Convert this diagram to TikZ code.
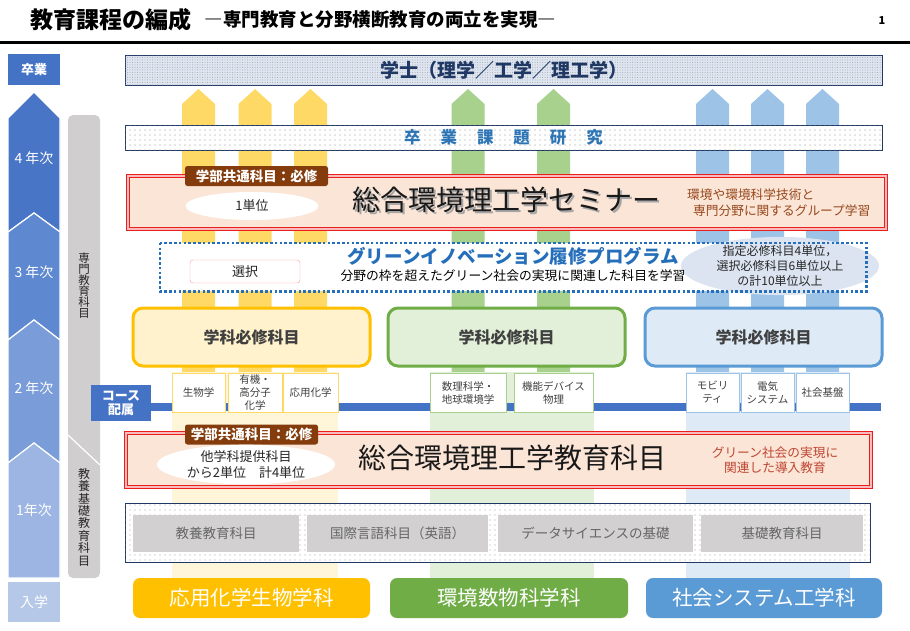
\documentclass[tikz,border=0pt]{standalone}
\usepackage{fontspec}
\setmainfont{Noto Sans CJK JP}
\usetikzlibrary{shapes,arrows,positioning,calc,patterns,patterns.meta}
\definecolor{yearfour}{RGB}{72,117,197}
\definecolor{yearthree}{RGB}{94,136,208}
\definecolor{yeartwo}{RGB}{122,156,216}
\definecolor{yearone}{RGB}{156,181,226}
\definecolor{entryblue}{RGB}{182,200,232}
\definecolor{gradblue}{RGB}{68,114,196}
\definecolor{sidegray}{RGB}{208,206,206}
\definecolor{navy}{RGB}{32,56,100}
\definecolor{gakushiblue}{RGB}{222,230,242}
\definecolor{kadaiblue}{RGB}{46,117,182}
\definecolor{commonred}{RGB}{235,30,30}
\definecolor{semipeach}{RGB}{251,229,214}
\definecolor{tagbrown}{RGB}{132,60,12}
\definecolor{notebrown}{RGB}{150,72,30}
\definecolor{notered}{RGB}{190,70,50}
\definecolor{progblue}{RGB}{36,110,186}
\definecolor{ovalblue}{RGB}{220,228,242}
\definecolor{deptyellow}{RGB}{255,192,0}
\definecolor{deptgreen}{RGB}{112,173,71}
\definecolor{deptblue}{RGB}{91,155,213}
\definecolor{reqyellow}{RGB}{255,242,204}
\definecolor{reqgreen}{RGB}{226,240,217}
\definecolor{reqblue}{RGB}{222,235,247}
\definecolor{stripyellow}{RGB}{255,217,102}
\definecolor{stripgreen}{RGB}{169,209,142}
\definecolor{stripblue}{RGB}{157,195,230}
\definecolor{bandyellow}{RGB}{255,246,218}
\definecolor{basegray}{RGB}{210,208,208}

\begin{document}
\begin{tikzpicture}[x=1pt,y=-1pt,
    every node/.style={inner sep=0pt, text=black!85},
    tagbox/.style={fill=tagbrown, rounded corners=2.5pt, minimum height=20pt, text=white, font=\bfseries\fontsize{13.5}{13.5}\selectfont},
    unitoval/.style={ellipse, fill=white, align=center, font=\fontsize{13}{16}\selectfont},
    commonbox/.style={draw=commonred, line width=1pt, double=commonred!30, double distance=1.6pt, fill=semipeach},
    reqbox/.style={rounded corners=10pt, line width=3pt, minimum width=237pt, minimum height=58pt, font=\bfseries\fontsize{16}{16}\selectfont, text=black!75},
    coursebox/.style={fill=white, line width=0.8pt, minimum height=39pt, align=center, font=\fontsize{10.5}{13}\selectfont, text=black!75},
    basebox/.style={fill=basegray, minimum height=37pt, text=black!60, font=\fontsize{13.5}{13.5}\selectfont},
    deptbox/.style={rounded corners=7pt, minimum height=40pt, text=white, font=\fontsize{20.5}{20.5}\selectfont},
    yearlabel/.style={text=white, font=\fontsize{14}{14}\selectfont},
    yearseg/.style={draw=white, line width=1.2pt}
]
\useasboundingbox (0,0) rectangle (910,630);
\fill[white] (0,0) rectangle (910,630);

% title
\node[anchor=west, text=black, font=\bfseries\fontsize{23}{23}\selectfont] (title) at (30,20) {教育課程の編成};
\node[right=13pt of title, text=black, font=\bfseries\fontsize{18.5}{18.5}\selectfont] (subtitle) {―専門教育と分野横断教育の両立を実現―};
\node[text=black, font=\bfseries\fontsize{11}{11}\selectfont] (pageno) at (882,21) {1};
\draw[line width=3pt] (0,42) -- (910,42);

% stripes behind
\foreach \sx/\sc in {198.5/stripyellow, 255/stripyellow, 310.5/stripyellow, 468/stripgreen, 553.5/stripgreen, 712.5/stripblue, 767.5/stripblue, 822.5/stripblue}
  \fill[\sc] (\sx-16.5,372) -- (\sx-16.5,104) -- (\sx,89) -- (\sx+16.5,104) -- (\sx+16.5,372) -- cycle;
\fill[bandyellow] (172,372) rectangle (338,578);
\fill[reqgreen] (430,372) rectangle (594,578);
\fill[reqblue] (686,372) rectangle (850,578);

% year arrow
\node[fill=gradblue, minimum width=52pt, minimum height=31pt, text=white, font=\bfseries\fontsize{13}{13}\selectfont] (grad) at (34,69.5) {卒業};
\fill[yearfour, yearseg] (8,118) -- (34,92) -- (60,118) -- (60,232) -- (34,213) -- (8,232) -- cycle;
\fill[yearthree, yearseg] (8,232) -- (34,213) -- (60,232) -- (60,340) -- (34,320) -- (8,340) -- cycle;
\fill[yeartwo, yearseg] (8,340) -- (34,320) -- (60,340) -- (60,463) -- (34,443) -- (8,463) -- cycle;
\fill[yearone, yearseg] (8,463) -- (34,443) -- (60,463) -- (60,578) -- (8,578) -- cycle;
\node[yearlabel] (y4) at (34,158) {4 年次};
\node[yearlabel] (y3) at (34,272) {3 年次};
\node[yearlabel] (y2) at (34,388) {2 年次};
\node[yearlabel] (y1) at (34,510) {1年次};
\node[fill=entryblue, minimum width=52pt, minimum height=40pt, text=white, font=\fontsize{14}{14}\selectfont] (entry) at (34,602) {入学};

% side bar
\fill[sidegray, rounded corners=5pt] (68,115) rectangle (100,578);
\draw[white, line width=1.2pt] (68,435) -- (100,465);
\node[align=center, font=\fontsize{11.5}{11}\selectfont] (senmon) at (84,286) {専\\門\\教\\育\\科\\目};
\node[align=center, font=\fontsize{12}{12.4}\selectfont] (kyoyo) at (84,517) {教\\養\\基\\礎\\教\\育\\科\\目};

% degree and thesis
\node[draw=navy, line width=0.8pt, fill=gakushiblue, postaction={pattern={Dots[distance=2.5pt,radius=0.5pt]}, pattern color=gray!70},
  minimum width=757pt, minimum height=30pt, text=navy, font=\bfseries\fontsize{19}{19}\selectfont] (gakushi) at (503.5,70) {学士（理学／工学／理工学）};
\node[draw=navy, line width=0.8pt, fill=white, postaction={pattern={Dots[distance=5pt,radius=0.6pt]}, pattern color=gray!80},
  minimum width=757pt, minimum height=25pt, text=kadaiblue, font=\bfseries\fontsize{16.5}{16.5}\selectfont] (kadai) at (503.5,137.5)
  {卒\hspace{20pt}業\hspace{20pt}課\hspace{20pt}題\hspace{20pt}研\hspace{20pt}究};

% seminar
\node[commonbox, minimum width=758pt, minimum height=53pt] (seminar) at (507,202.5) {};
\node[tagbox, minimum width=143pt] (tag1) at (256.5,176) {学部共通科目：必修};
\node[unitoval, minimum width=133pt, minimum height=28pt] (unit1) at (252,206) {1単位};
\node[text=black!35, font=\fontsize{28}{28}\selectfont] (semishadow) at (508,201.5) {総合環境理工学セミナー};
\node[text=black!90, font=\fontsize{28}{28}\selectfont] (semititle) at (506.5,200) {総合環境理工学セミナー};
\node[anchor=west, align=left, text=notebrown, font=\fontsize{12.7}{15.5}\selectfont] (seminote) at (687,202.5) {環境や環境科学技術と\\\hspace{6pt}専門分野に関するグループ学習};

% green innovation program
\node[fill=white, minimum width=706pt, minimum height=48pt] (prog) at (513,267) {};
\node[ellipse, fill=ovalblue, minimum width=198pt, minimum height=50pt, align=center, font=\fontsize{12}{15}\selectfont] (progunits) at (780,266)
  {指定必修科目4単位，\\選択必修科目6単位以上\\の計10単位以上};
\draw[progblue, line width=2.6pt, dash pattern=on 2.6pt off 2.2pt] (prog.north west) rectangle (prog.south east);
\node[draw=red!40, fill=white, rounded corners=3pt, minimum width=110pt, minimum height=23pt, font=\fontsize{13}{13}\selectfont] (sentaku) at (245,271.5) {選択};
\node[text=progblue, font=\bfseries\fontsize{18.5}{18.5}\selectfont] (progtitle) at (513,256) {グリーンイノベーション履修プログラム};
\node[text=black, font=\fontsize{12.8}{12.8}\selectfont] (progsub) at (513,276) {分野の枠を超えたグリーン社会の実現に関連した科目を学習};

% department required courses
\node[reqbox, draw=deptyellow, fill=reqyellow] (reqa) at (251.5,337) {学科必修科目};
\node[reqbox, draw=deptgreen, fill=reqgreen] (reqb) at (506.5,337) {学科必修科目};
\node[reqbox, draw=deptblue, fill=reqblue] (reqc) at (763.5,337) {学科必修科目};

% course assignment
\coordinate (lineend) at (881,407);
\node[fill=gradblue, minimum width=60pt, minimum height=36pt, align=center, text=white, font=\bfseries\fontsize{13}{14}\selectfont] (haizoku) at (121,403) {コース\\配属};
\draw[gradblue, line width=8pt] (haizoku.east |- lineend) -- (lineend);
\node[coursebox, draw=stripyellow, minimum width=53pt] (bio) at (198.5,392.5) {生物学};
\node[coursebox, draw=stripyellow, minimum width=54pt] (polymer) at (255,392.5) {有機・\\高分子\\化学};
\node[coursebox, draw=stripyellow, minimum width=55pt] (appchem) at (310.5,392.5) {応用化学};
\node[coursebox, draw=stripgreen, minimum width=76pt] (earth) at (468,392.5) {数理科学・\\地球環境学};
\node[coursebox, draw=stripgreen, minimum width=79pt] (device) at (553.5,392.5) {機能デバイス\\物理};
\node[coursebox, draw=stripblue, minimum width=53pt] (mobility) at (712.5,392.5) {モビリ\\ティ};
\node[coursebox, draw=stripblue, minimum width=53pt] (power) at (767.5,392.5) {電気\\システム};
\node[coursebox, draw=stripblue, minimum width=53pt] (civil) at (822.5,392.5) {社会基盤};

% common education
\node[commonbox, minimum width=745pt, minimum height=54pt] (kyoiku) at (498.5,460) {};
\node[tagbox, minimum width=133pt] (tag2) at (251.5,434.5) {学部共通科目：必修};
\node[unitoval, minimum width=178pt, minimum height=36pt] (unit2) at (246,464.5) {他学科提供科目\\から2単位　計4単位};
\node[text=black!90, font=\fontsize{28}{28}\selectfont] (kyoikutitle) at (512,458) {総合環境理工学教育科目};
\node[align=center, text=notered, font=\fontsize{12.7}{15}\selectfont] (kyoikunote) at (775,460) {グリーン社会の実現に\\関連した導入教育};

% liberal arts and basics
\node[draw=navy, line width=0.7pt, fill=white, postaction={pattern={Dots[distance=5pt,radius=0.6pt]}, pattern color=gray!70},
  minimum width=745pt, minimum height=59pt] (basic) at (497.5,532.5) {};
\node[basebox, minimum width=166pt] (liberal) at (216,533.5) {教養教育科目};
\node[basebox, minimum width=181pt] (english) at (397.5,533.5) {国際言語科目（英語）};
\node[basebox, minimum width=195pt] (datasci) at (595.5,533.5) {データサイエンスの基礎};
\node[basebox, minimum width=162pt] (fundam) at (782,533.5) {基礎教育科目};

% departments
\node[deptbox, fill=deptyellow, minimum width=237pt] (depta) at (251.5,598) {応用化学生物学科};
\node[deptbox, fill=deptgreen, minimum width=238pt] (deptb) at (509,598) {環境数物科学科};
\node[deptbox, fill=deptblue, minimum width=236pt] (deptc) at (764,598) {社会システム工学科};
\end{tikzpicture}
\end{document}
